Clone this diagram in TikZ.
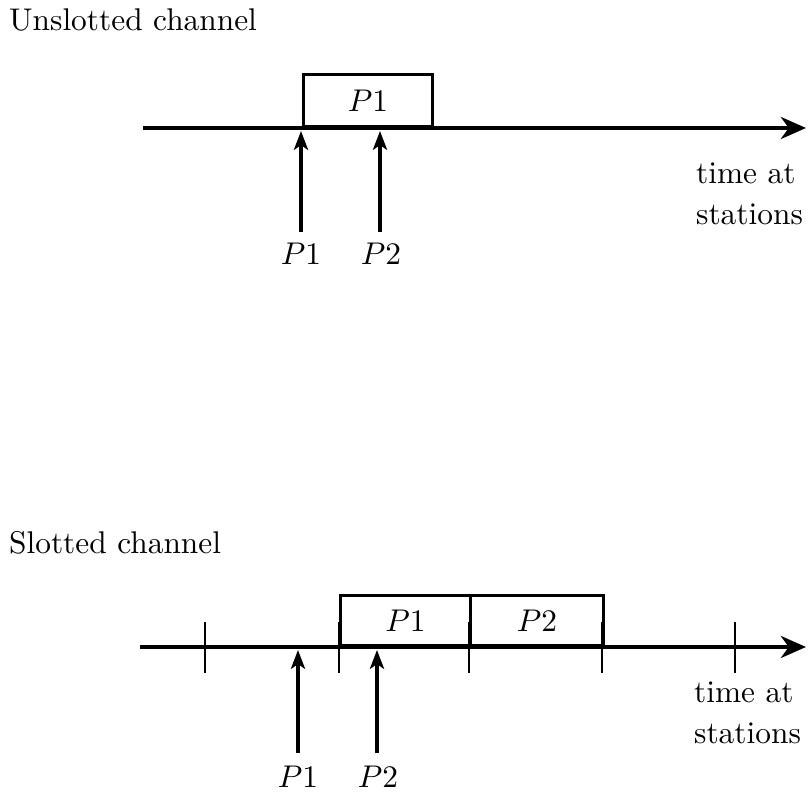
\documentclass[tikz,border=0pt]{standalone}
\usetikzlibrary{positioning, arrows.meta}
\tikzset{every picture/.style={line width=0.75pt}}

\begin{document}
\begin{tikzpicture}[>={Stealth[length=6pt, width=4.5pt, inset=1.5pt]}, x=0.0112cm, y=-0.0112cm,
    axis/.style={-{Stealth[length=8pt, width=7pt, inset=2.5pt]}, line width=1.3pt},
    pkt/.style={draw, line width=0.9pt, inner sep=0pt, anchor=south west},
    hit/.style={->, line width=1.1pt},
    tck/.style={line width=0.9pt},
    lbl/.style={align=left, anchor=west, inner sep=0pt}]
        \useasboundingbox (0,0) rectangle (809,795);
        % unslotted channel
        \node[anchor=west, inner sep=0pt] (utitle) at (8,20) {Unslotted channel};
        \coordinate (ua) at (143,128);
        \coordinate (ub) at (806,128);
        \node[pkt, minimum width=1.445cm, minimum height=0.58cm] (ubox) at (302,128) {$P1$};
        \draw[axis] (ua) -- (ub);
        \node[lbl] (utime) at (695,194) {time at\\[1pt]stations};
        \node (ul1) at (301,254) {$P1$};
        \node (ul2) at (381,254) {$P2$};
        \coordinate (ut1) at (301,232);
        \coordinate (ut2) at (380,232);
        \coordinate (uh1) at (301,131);
        \coordinate (uh2) at (380,131);
        \draw[hit] (ut1) -- (uh1);
        \draw[hit] (ut2) -- (uh2);
        % slotted channel
        \node[anchor=west, inner sep=0pt] (stitle) at (8,543) {Slotted channel};
        \coordinate (sa) at (140,647);
        \coordinate (sb) at (806,647);
        \node[pkt, minimum width=1.456cm, minimum height=0.56cm] (sbox1) at (339,647) {$P1$};
        \node[pkt, minimum width=1.49cm, minimum height=0.56cm] (sbox2) at (469,647) {$P2$};
        \draw[axis] (sa) -- (sb);
        \foreach \x in {205,339,469,602,735}
            \draw[tck] (\x,622) -- (\x,673);
        \node[lbl] (stime) at (693,713) {time at\\[1pt]stations};
        \node (sl1) at (298,777) {$P1$};
        \node (sl2) at (378,777) {$P2$};
        \coordinate (st1) at (298,753);
        \coordinate (st2) at (377,753);
        \coordinate (sh1) at (298,650);
        \coordinate (sh2) at (377,650);
        \draw[hit] (st1) -- (sh1);
        \draw[hit] (st2) -- (sh2);
    \end{tikzpicture}
\end{document}
